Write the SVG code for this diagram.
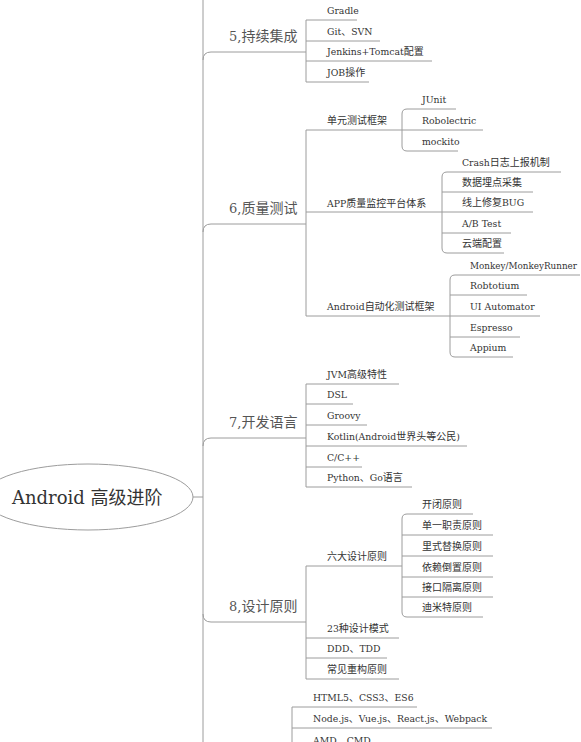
<svg xmlns="http://www.w3.org/2000/svg" width="581" height="742" viewBox="0 0 581 742">
<style>
.ln{fill:none;stroke:#9c9c9c;stroke-width:1}
.t{font-family:"DejaVu Serif","Noto Sans CJK SC",serif;font-size:9.3px;fill:#333}
.c{font-family:"Noto Sans CJK SC","DejaVu Sans",sans-serif;font-size:10px}
.k{font-family:"DejaVu Serif","Noto Sans CJK SC",serif;font-size:13px;fill:#555}
.kc{font-family:"Noto Sans CJK SC",sans-serif;font-size:14px}
.r{font-family:"DejaVu Serif","Noto Sans CJK SC",serif;font-size:18px;fill:#333}
</style>
<rect width="581" height="742" fill="#fff"/>
<g id="connectors">
<line class="ln" x1="203" y1="0" x2="203" y2="742"/>
<line class="ln" x1="193" y1="497" x2="203" y2="497"/>
<path class="ln" d="M203,60 Q203,52 211,52 H306"/>
<path class="ln" d="M306,20 V82"/>
<path class="ln" d="M306,20 H357 M306,41 H380 M306,61 H432 M306,82 H369"/>
<path class="ln" d="M203,232 Q203,224 211,224 H306"/>
<path class="ln" d="M306,130 V316"/>
<path class="ln" d="M306,130 H483 M306,212 H533 M306,316 H540"/>
<path class="ln" d="M407,109 Q402,109 402,114 V146 Q402,151 407,151"/>
<path class="ln" d="M407,109 H456 M407,151 H458"/>
<path class="ln" d="M447,172 Q442,172 442,177 V248 Q442,253 447,253"/>
<path class="ln" d="M447,172 H561 M442,192 H533 M442,233 H511 M447,253 H504"/>
<path class="ln" d="M455,275 Q450,275 450,280 V352 Q450,357 455,357"/>
<path class="ln" d="M455,275 H580 M450,295 H527 M450,337 H520 M455,357 H513"/>
<path class="ln" d="M203,446 Q203,438 211,438 H306"/>
<path class="ln" d="M306,384 V487"/>
<path class="ln" d="M306,384 H399 M306,404 H353 M306,425 H367 M306,446 H467 M306,467 H362 M306,487 H412"/>
<path class="ln" d="M203,614 Q203,622 211,622 H306"/>
<path class="ln" d="M306,566 V679"/>
<path class="ln" d="M306,566 H402 M306,638 H399 M306,658 H387 M306,679 H399"/>
<path class="ln" d="M407,514 Q402,514 402,519 V612 Q402,617 407,617"/>
<path class="ln" d="M407,514 H473 M402,535 H493 M402,556 H493 M402,577 H493 M402,597 H493 M407,617 H483"/>
<path class="ln" d="M292,707 V742"/>
<path class="ln" d="M292,707 H417 M292,728 H492"/>
</g>
<g id="root">
<ellipse cx="88" cy="497" rx="105" ry="33" fill="#fff" stroke="#9c9c9c" stroke-width="1"/>
<text class="r" x="12" y="504">Android <tspan font-family="Noto Sans CJK SC, sans-serif">高级进阶</tspan></text>
</g>
<g id="cat5">
<text class="k" x="229" y="41">5,<tspan class="kc">持续集成</tspan></text>
<text class="t" x="327" y="14">Gradle</text>
<text class="t" x="327" y="35">Git<tspan class="c">、</tspan>SVN</text>
<text class="t" x="327" y="55">Jenkins+Tomcat<tspan class="c">配置</tspan></text>
<text class="t" x="327" y="76">JOB<tspan class="c">操作</tspan></text>
</g>
<g id="cat6">
<text class="k" x="229" y="213">6,<tspan class="kc">质量测试</tspan></text>
<text class="t" x="327" y="124"><tspan class="c">单元测试框架</tspan></text>
<text class="t" x="422" y="103">JUnit</text>
<text class="t" x="422" y="124">Robolectric</text>
<text class="t" x="422" y="145">mockito</text>
<text class="t" x="327" y="207">APP<tspan class="c">质量监控平台体系</tspan></text>
<text class="t" x="462" y="166">Crash<tspan class="c">日志上报机制</tspan></text>
<text class="t" x="462" y="186"><tspan class="c">数据埋点采集</tspan></text>
<text class="t" x="462" y="206"><tspan class="c">线上修复</tspan>BUG</text>
<text class="t" x="462" y="227">A/B Test</text>
<text class="t" x="462" y="247"><tspan class="c">云端配置</tspan></text>
<text class="t" x="327" y="310">Android<tspan class="c">自动化测试框架</tspan></text>
<text class="t" x="470" y="269" textLength="107" lengthAdjust="spacingAndGlyphs">Monkey/MonkeyRunner</text>
<text class="t" x="470" y="289">Robtotium</text>
<text class="t" x="470" y="310">UI Automator</text>
<text class="t" x="470" y="331">Espresso</text>
<text class="t" x="470" y="351">Appium</text>
</g>
<g id="cat7">
<text class="k" x="229" y="427">7,<tspan class="kc">开发语言</tspan></text>
<text class="t" x="327" y="378">JVM<tspan class="c">高级特性</tspan></text>
<text class="t" x="327" y="398">DSL</text>
<text class="t" x="327" y="419">Groovy</text>
<text class="t" x="327" y="440">Kotlin(Android<tspan class="c">世界头等公民</tspan>)</text>
<text class="t" x="327" y="461">C/C++</text>
<text class="t" x="327" y="481">Python<tspan class="c">、</tspan>Go<tspan class="c">语言</tspan></text>
</g>
<g id="cat8">
<text class="k" x="229" y="611">8,<tspan class="kc">设计原则</tspan></text>
<text class="t" x="327" y="560"><tspan class="c">六大设计原则</tspan></text>
<text class="t" x="422" y="508"><tspan class="c">开闭原则</tspan></text>
<text class="t" x="422" y="529"><tspan class="c">单一职责原则</tspan></text>
<text class="t" x="422" y="550"><tspan class="c">里式替换原则</tspan></text>
<text class="t" x="422" y="571"><tspan class="c">依赖倒置原则</tspan></text>
<text class="t" x="422" y="591"><tspan class="c">接口隔离原则</tspan></text>
<text class="t" x="422" y="611"><tspan class="c">迪米特原则</tspan></text>
<text class="t" x="327" y="632">23<tspan class="c">种设计模式</tspan></text>
<text class="t" x="327" y="652">DDD<tspan class="c">、</tspan>TDD</text>
<text class="t" x="327" y="673"><tspan class="c">常见重构原则</tspan></text>
</g>
<g id="cat9">
<text class="t" x="313" y="701">HTML5<tspan class="c">、</tspan>CSS3<tspan class="c">、</tspan>ES6</text>
<text class="t" x="313" y="722">Node.js<tspan class="c">、</tspan>Vue.js<tspan class="c">、</tspan>React.js<tspan class="c">、</tspan>Webpack</text>
<text class="t" x="313" y="744">AMD<tspan class="c">、</tspan>CMD</text>
</g>
</svg>
